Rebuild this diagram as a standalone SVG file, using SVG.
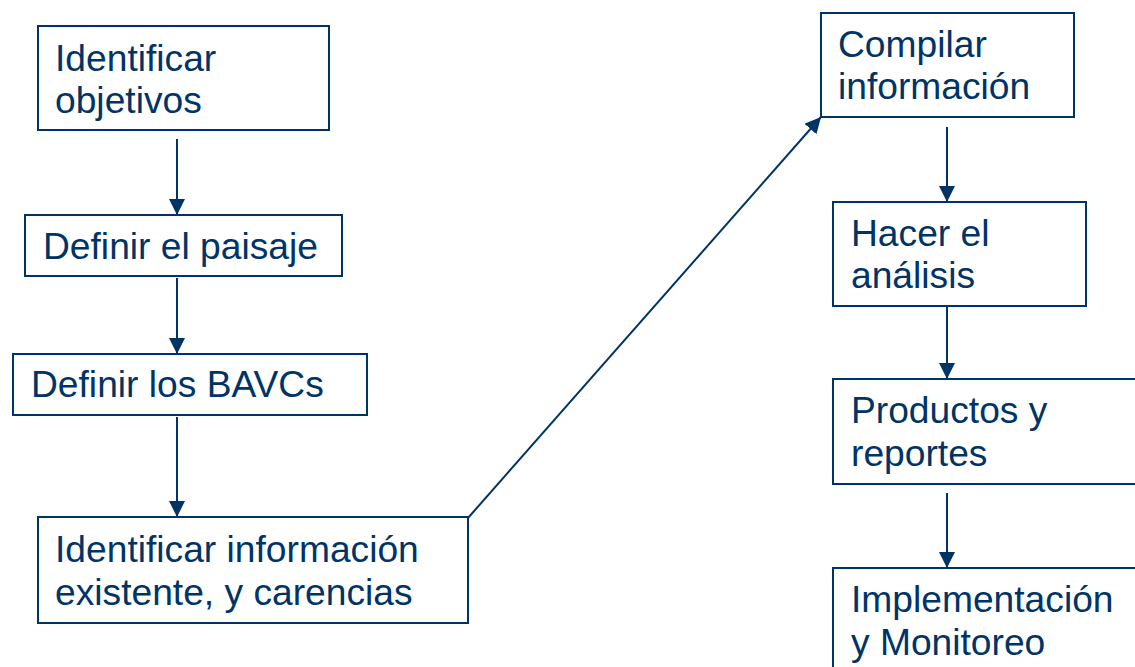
<svg xmlns="http://www.w3.org/2000/svg" width="1135" height="667" viewBox="0 0 1135 667">
<style>
.box{fill:#fff;stroke:#003366;stroke-width:2}
.lbl{font-family:"Liberation Sans",Arial,sans-serif;font-size:37.2px;fill:#003366}
.con{stroke:#003366;stroke-width:2;fill:none;marker-end:url(#ah)}
</style>
<defs>
<marker id="ah" markerUnits="userSpaceOnUse" markerWidth="16" markerHeight="16" viewBox="0 0 16 16" refX="16" refY="8" orient="auto">
<path d="M0,0 L16,8 L0,16 Z" fill="#003366"/>
</marker>
</defs>
<rect width="1135" height="667" fill="#fff"/>
<g id="connectors">
<line class="con" x1="177" y1="139" x2="177" y2="215"/>
<line class="con" x1="177" y1="278" x2="177" y2="354"/>
<line class="con" x1="177" y1="417" x2="177" y2="517"/>
<line class="con" x1="468" y1="518" x2="821" y2="117"/>
<line class="con" x1="947" y1="127" x2="947" y2="202"/>
<line class="con" x1="947" y1="303" x2="947" y2="379"/>
<line class="con" x1="947" y1="493" x2="947" y2="568"/>
</g>
<g id="n1"><rect class="box" x="38" y="26" width="291" height="104"/>
<text class="lbl" x="55" y="71">Identificar</text><text class="lbl" x="55" y="113">objetivos</text></g>
<g id="n2"><rect class="box" x="25" y="215" width="317" height="61"/>
<text class="lbl" x="43" y="259">Definir el paisaje</text></g>
<g id="n3"><rect class="box" x="13" y="354" width="354" height="61"/>
<text class="lbl" x="31" y="397">Definir los BAVCs</text></g>
<g id="n4"><rect class="box" x="38" y="517" width="430" height="106"/>
<text class="lbl" x="55" y="562">Identificar información</text><text class="lbl" x="55" y="605">existente, y carencias</text></g>
<g id="n5"><rect class="box" x="821" y="13" width="253" height="104"/>
<text class="lbl" x="838" y="57">Compilar</text><text class="lbl" x="838" y="99">información</text></g>
<g id="n6"><rect class="box" x="833" y="202" width="253" height="104"/>
<text class="lbl" x="851" y="246">Hacer el</text><text class="lbl" x="851" y="288">análisis</text></g>
<g id="n7"><rect class="box" x="833" y="379" width="320" height="105"/>
<text class="lbl" x="851" y="423">Productos y</text><text class="lbl" x="851" y="466">reportes</text></g>
<g id="n8"><rect class="box" x="833" y="568" width="320" height="120"/>
<text class="lbl" x="851" y="612">Implementación</text><text class="lbl" x="851" y="655">y Monitoreo</text></g>
</svg>
